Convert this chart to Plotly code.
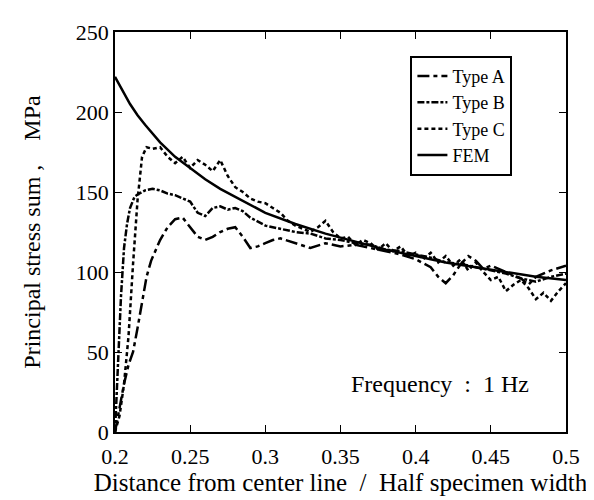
import plotly.graph_objects as go

# ---- data ----
fem_x = [0.2, 0.205, 0.21, 0.215, 0.22, 0.23, 0.24, 0.25, 0.26, 0.27, 0.28, 0.29, 0.3,
         0.32, 0.34, 0.36, 0.38, 0.4, 0.42, 0.44, 0.46, 0.48, 0.5]
fem_y = [222, 213, 205, 198, 192, 181, 172, 165, 158, 152, 147, 142, 137,
         130, 124, 119, 114, 110, 106, 103, 100, 97, 95]

a_x = [0.2, 0.203, 0.206, 0.209, 0.212, 0.215, 0.218, 0.221, 0.224, 0.227, 0.23, 0.235,
       0.24, 0.245, 0.25, 0.255, 0.26, 0.265, 0.27, 0.275, 0.28, 0.285, 0.29, 0.295,
       0.3, 0.305, 0.31, 0.32, 0.33, 0.34, 0.35, 0.36, 0.37, 0.38, 0.39, 0.4, 0.41,
       0.415, 0.42, 0.425, 0.43, 0.435, 0.44, 0.445, 0.45, 0.46, 0.47, 0.475, 0.48,
       0.49, 0.5]
a_y = [0, 15, 30, 42, 50, 65, 82, 97, 107, 113, 120, 128,
       133, 134, 128, 122, 120, 122, 125, 127, 128, 122, 115, 116,
       118, 120, 121, 118, 115, 118, 116, 117, 115, 113, 111, 108, 103,
       97, 93, 98, 105, 110, 107, 102, 104, 100, 96, 92, 97,
       101, 104]

b_x = [0.2, 0.202, 0.204, 0.206, 0.208, 0.21, 0.213, 0.216, 0.22, 0.225, 0.23, 0.235,
       0.24, 0.245, 0.25, 0.255, 0.26, 0.265, 0.27, 0.275, 0.28, 0.285, 0.29, 0.3,
       0.31, 0.32, 0.33, 0.34, 0.35, 0.36, 0.37, 0.38, 0.39, 0.4, 0.41, 0.42, 0.43,
       0.44, 0.45, 0.46, 0.47, 0.48, 0.49, 0.5]
b_y = [0, 40, 85, 115, 130, 140, 147, 149, 151, 152, 151, 149,
       148, 146, 144, 137, 135, 140, 141, 139, 140, 138, 134, 129,
       127, 125, 124, 121, 120, 118, 117, 114, 113, 111, 109, 106, 105,
       103, 101, 99, 96, 94, 97, 99]

c_x = [0.2, 0.203, 0.206, 0.209, 0.212, 0.215, 0.218, 0.221, 0.225, 0.23, 0.235, 0.24,
       0.245, 0.25, 0.255, 0.26, 0.265, 0.27, 0.275, 0.28, 0.285, 0.29, 0.295, 0.3,
       0.305, 0.31, 0.315, 0.32, 0.325, 0.33, 0.335, 0.34, 0.345, 0.35, 0.355, 0.36,
       0.365, 0.37, 0.375, 0.38, 0.385, 0.39, 0.395, 0.4, 0.405, 0.41, 0.415, 0.42,
       0.425, 0.43, 0.435, 0.44, 0.445, 0.45, 0.455, 0.46, 0.465, 0.47, 0.475, 0.48,
       0.485, 0.49, 0.495, 0.5]
c_y = [0, 10, 30, 60, 105, 145, 172, 178, 177, 178, 172, 168,
       172, 165, 170, 167, 163, 170, 160, 153, 150, 146, 144, 143,
       140, 137, 132, 129, 127, 125, 128, 132, 125, 121, 122, 117,
       120, 118, 114, 118, 113, 116, 110, 112, 108, 112, 106, 110,
       104, 108, 101, 106, 100, 95, 97, 88, 92, 95, 90, 83,
       87, 82, 88, 93]

x_ticks = [0.2, 0.25, 0.3, 0.35, 0.4, 0.45, 0.5]
x_tick_text = ["0.2", "0.25", "0.3", "0.35", "0.4", "0.45", "0.5"]
y_ticks = [0, 50, 100, 150, 200, 250]

FONT = "Liberation Serif"

fig = go.Figure()
fig.add_trace(go.Scatter(x=a_x, y=a_y, mode="lines", name="Type A",
                         line=dict(color="black", width=2.5, dash="12px,4px,4px,4px")))
fig.add_trace(go.Scatter(x=b_x, y=b_y, mode="lines", name="Type B",
                         line=dict(color="black", width=2.5, dash="7px,2px,3px,2px")))
fig.add_trace(go.Scatter(x=c_x, y=c_y, mode="lines", name="Type C",
                         line=dict(color="black", width=2.5, dash="4px,3px")))
fig.add_trace(go.Scatter(x=fem_x, y=fem_y, mode="lines", name="FEM",
                         line=dict(color="black", width=2.5)))

fig.add_annotation(x=0.4765, y=30, xref="x", yref="y", text="Frequency  :  1 Hz",
                   showarrow=False, xanchor="right", yanchor="middle",
                   font=dict(family=FONT, size=24, color="black"))

fig.update_layout(
    width=594, height=500,
    margin=dict(l=107, r=36, t=19, b=76),
    paper_bgcolor="white", plot_bgcolor="white",
    font=dict(family=FONT, size=22, color="black"),
    showlegend=True,
    legend=dict(x=0.655, y=0.9407, xanchor="left", yanchor="top",
                bgcolor="white", bordercolor="black", borderwidth=2,
                font=dict(family=FONT, size=18, color="black"),
                tracegroupgap=0, itemwidth=30),
    xaxis=dict(range=[0.2, 0.5], tickvals=x_ticks, ticktext=x_tick_text,
               ticks="inside", ticklen=7, tickcolor="black", showline=True,
               linecolor="black", linewidth=1.5, mirror="ticks", showgrid=False,
               zeroline=False, tickfont=dict(family=FONT, size=22),
               ticklabelstandoff=4,
               title=dict(text="Distance from center line  /  Half specimen width",
                          font=dict(family=FONT, size=25), standoff=5)),
    yaxis=dict(range=[0, 250], tickvals=y_ticks,
               ticks="inside", ticklen=7, tickcolor="black", showline=True,
               linecolor="black", linewidth=1.5, mirror="ticks", showgrid=False,
               zeroline=False, tickfont=dict(family=FONT, size=22),
               title=dict(text="Principal stress sum ,    MPa",
                          font=dict(family=FONT, size=24), standoff=28)),
)

fig.write_html("out.html")
